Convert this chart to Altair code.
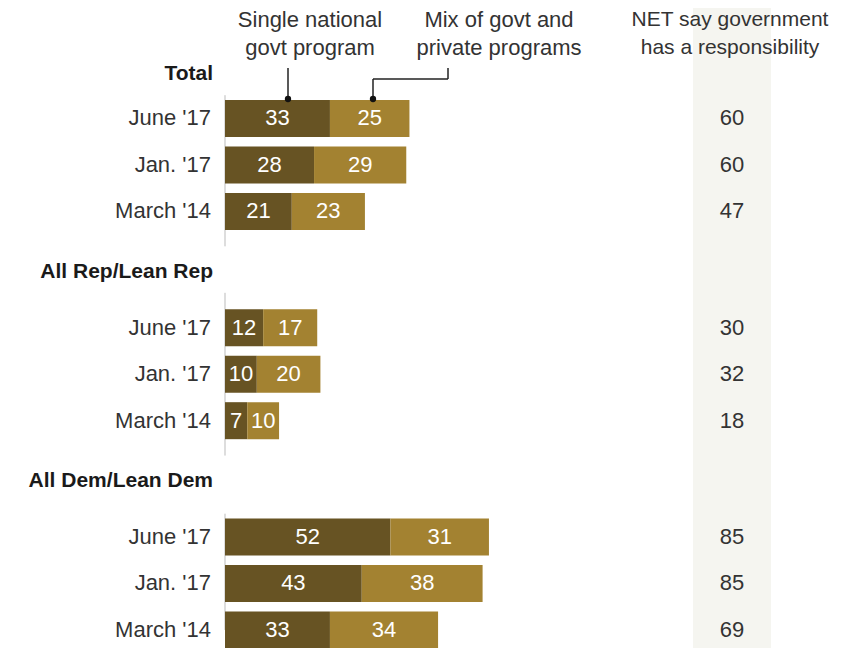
import altair as alt
import pandas as pd

# ---------------- data ----------------
groups = ["Total", "All Rep/Lean Rep", "All Dem/Lean Dem"]
dates = ["June '17", "Jan. '17", "March '14"]
single = [33, 28, 21, 12, 10, 7, 52, 43, 33]
mix = [25, 29, 23, 17, 20, 10, 31, 38, 34]
net = [60, 60, 47, 30, 32, 18, 85, 85, 69]
series = ["Single national govt program", "Mix of govt and private programs"]

# ---------------- layout (band slots) ----------------
N_SLOTS = 54
header_slot = [5, 22, 40]
row_slot = [9, 13, 17, 27, 31, 35, 45, 49, 53]
rule_slot = [(7, 20), (24, 38), (43, 53)]
slots = [f"s{i:02d}" for i in range(N_SLOTS)]
STEP = 11.625

DARK = "#675323"
LIGHT = "#a38231"
FONT = "Liberation Sans"

rows = []
for gi, g in enumerate(groups):
    for di, d in enumerate(dates):
        i = gi * 3 + di
        rows.append(dict(slot=slots[row_slot[i]], label=d, single=single[i],
                         mix=mix[i], net=net[i]))
df = pd.DataFrame(rows)

long = df.melt(id_vars=["slot", "label", "net"], value_vars=["single", "mix"],
               var_name="key", value_name="value")
long["series"] = long["key"].map({"single": series[0], "mix": series[1]})
long["order"] = long["key"].map({"single": 0, "mix": 1})

hdr = pd.DataFrame(dict(slot=[slots[s] for s in header_slot], label=groups))
rules = pd.DataFrame(dict(y0=[slots[a] for a, b in rule_slot],
                          y1=[slots[b] for a, b in rule_slot]))

W = 609
H = N_SLOTS * STEP

yscale = alt.Scale(domain=slots, paddingInner=0, paddingOuter=0)
xscale = alt.Scale(domain=[0, 191.5], nice=False, zero=True)
Y = alt.Y("slot:N", scale=yscale, axis=None)

one = pd.DataFrame({"_": [0]})

shade = alt.Chart(one).mark_rect(color="#f5f5f0").encode(
    x=alt.value(468), x2=alt.value(546), y=alt.value(-1), y2=alt.value(H + 20))

grp_rules = alt.Chart(rules).mark_rule(color="#bbbbbb", strokeWidth=1).encode(
    x=alt.value(0), y=alt.Y("y0:N", scale=yscale, axis=None), y2="y1:N")

stacked = alt.Chart(long).transform_stack(
    stack="value", as_=["x0", "x1"], groupby=["slot"],
    sort=[alt.SortField("order")]
).transform_calculate(mid="(datum.x0 + datum.x1) / 2")

bars = stacked.mark_bar(size=37).encode(
    x=alt.X("x0:Q", scale=xscale, axis=None),
    x2="x1:Q",
    y=Y,
    color=alt.Color("series:N", scale=alt.Scale(domain=series, range=[DARK, LIGHT]),
                    legend=None),
)

bar_labels = stacked.mark_text(color="white", fontSize=22, baseline="middle",
                               font=FONT).encode(
    x=alt.X("mid:Q", scale=xscale, axis=None), y=Y, text="value:Q")

net_text = alt.Chart(df).mark_text(color="#333333", fontSize=22, baseline="middle",
                                   font=FONT).encode(
    x=alt.value(507), y=Y, text="net:Q")

row_labels = alt.Chart(df).mark_text(color="#333333", fontSize=22, align="right",
                                     baseline="middle", font=FONT).encode(
    x=alt.value(-14), y=Y, text="label:N")

hdr_labels = alt.Chart(hdr).mark_text(color="#1a1a1a", fontSize=21, fontWeight="bold",
                                      align="right", baseline="middle", font=FONT,
                                      dy=2).encode(
    x=alt.value(-12), y=Y, text="label:N")


def note(txt, x, y, size=22):
    return alt.Chart(one).mark_text(text=txt, fontSize=size, color="#333333",
                                    baseline="middle", align="center", font=FONT).encode(
        x=alt.value(x), y=alt.value(y))


def seg(x1, y1, x2, y2):
    return alt.Chart(one).mark_rule(color="#222222", strokeWidth=1.5).encode(
        x=alt.value(x1), y=alt.value(y1), x2=alt.value(x2), y2=alt.value(y2))


def dot(x, y):
    return alt.Chart(one).mark_point(filled=True, color="#111111", size=40,
                                     opacity=1).encode(x=alt.value(x), y=alt.value(y))


notes = [
    note("Single national", 85, 12), note("govt program", 85, 40),
    note("Mix of govt and", 274, 12), note("private programs", 274, 40),
    note("NET say government", 505, 12, 21), note("has a responsibility", 505, 40, 21),
]
leaders = [
    seg(63, 60, 63, 91), dot(63, 91),
    seg(223, 60, 223, 71), seg(223, 71, 148, 71), seg(148, 71, 148, 91), dot(148, 91),
]

chart = alt.layer(
    shade, grp_rules, bars, bar_labels, net_text, row_labels, hdr_labels,
    *notes, *leaders
).properties(
    width=W, height=H,
    autosize=alt.AutoSizeParams(type="none"),
    padding={"left": 217, "top": 0, "right": 0, "bottom": 12},
).configure(font=FONT).configure_view(stroke=None).configure_axis(
    domain=False, grid=False)

chart.save("out.html", embed_options={"renderer": "svg", "actions": False})
